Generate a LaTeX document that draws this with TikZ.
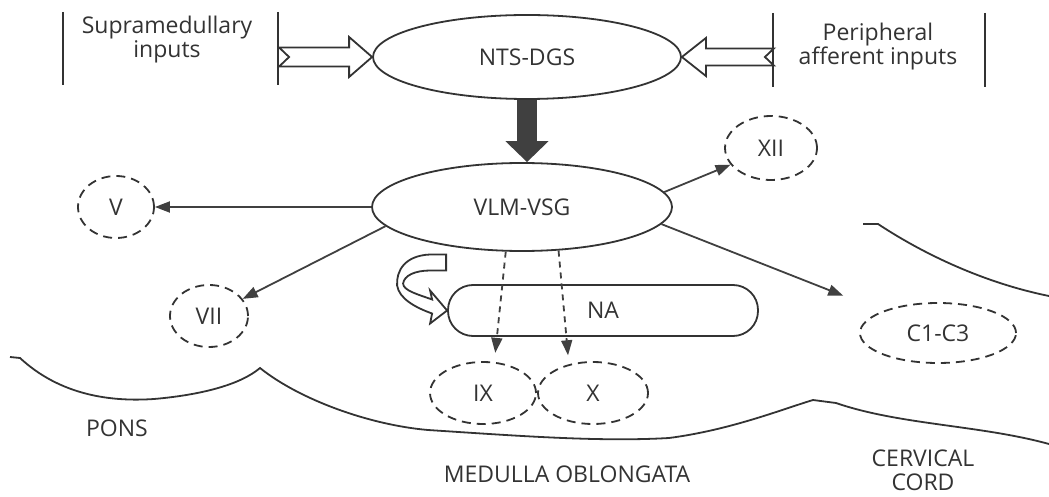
\documentclass[tikz,border=0pt]{standalone}
\usepackage{fontspec}
\setmainfont{Open Sans}
\usetikzlibrary{arrows.meta,calc,shapes.geometric}

\begin{document}
\begin{tikzpicture}[x=0.5pt,y=-0.5pt,
  every node/.style={font=\fontsize{11.5}{12}\selectfont, text=black!80},
  zone/.style={ellipse, draw=black!80, line width=0.9pt, inner sep=0pt},
  kern/.style={ellipse, draw=black!80, line width=0.9pt, dash pattern=on 4.5pt off 3pt, inner sep=0pt},
  arr/.style={draw=black!75, line width=0.9pt, -{Triangle[length=7.5pt,width=5.5pt]}},
  dots/.style={dash pattern=on 3pt off 2.5pt, shorten >=4.5pt},
  hollow/.style={draw=black!80, line width=0.9pt, fill=white, line join=miter},
  edge/.style={draw=black!80, line width=0.9pt}]
  \useasboundingbox (0,0) rectangle (1049,497);
  % 中枢核团
  \node[zone, minimum width=154pt, minimum height=42pt] (nts) at (527,57) {NTS-DGS};
  \node[zone, minimum width=150pt, minimum height=44pt] (vlm) at (522,207) {VLM-VSG};
  \node[draw=black!80, line width=0.9pt, rounded corners=12.5pt,
        minimum width=155pt, minimum height=25.5pt, inner sep=0pt] (na) at (603,310.5) {NA};
  % 运动核（虚线椭圆）
  \node[kern, minimum width=38pt, minimum height=31pt] (cnV) at (116,207) {V};
  \node[kern, minimum width=39pt, minimum height=31pt] (cnVII) at (209,316) {VII};
  \node[kern, minimum width=46pt, minimum height=32pt] (cnXII) at (771,148) {XII};
  \node[kern, minimum width=53pt, minimum height=31pt] (cnIX) at (483,393) {IX};
  \node[kern, minimum width=55pt, minimum height=31pt] (cnX) at (593,393) {X};
  \node[kern, minimum width=78pt, minimum height=30pt] (cerv) at (938,333) {C1-C3};
  % 输入标注及竖线
  \node[align=center] (supra) at (167,40) {Supramedullary\\inputs};
  \node[align=center] (peri) at (878,47) {Peripheral\\afferent inputs};
  \draw[edge] (63,12) -- (63,85);
  \draw[edge] (278,12) -- (278,85);
  \draw[edge] (773,13) -- (773,87);
  \draw[edge] (985,13) -- (985,87);
  % 空心箭头（燕尾）
  \draw[hollow] (nts.west) -- ++(-23,-20) -- ++(0,10.5) -- ++(-70,0) -- ++(10,9.5)
    -- ++(-10,9.5) -- ++(70,0) -- ++(0,10.5) -- cycle;
  \draw[hollow] (nts.east) -- ++(24,-19) -- ++(0,10.5) -- ++(68,0) -- ++(-9,8.5)
    -- ++(9,8.5) -- ++(-68,0) -- ++(0,10.5) -- cycle;
  % 粗箭头 NTS -> VLM
  \draw[draw=black!75, line width=10pt, -{Triangle[length=10.5pt,width=21pt]}]
    (nts.south) -- (nts.south |- vlm.north);
  % 投射
  \draw[arr] (vlm.west) -- (cnV);
  \draw[arr] (vlm.188) -- (cnVII);
  \draw[arr] (vlm.6) -- (cnXII);
  \draw[arr, shorten >=21pt] (vlm.-7) -- (cerv);
  \draw[arr, dots] (vlm.250) -- (cnIX.70);
  \draw[arr, dots] (vlm.310) -- (cnX.130);
  % 弯曲空心箭头指向 NA
  \draw[hollow, shift={(na.west)}] (-1,-56) -- (-17,-56) .. controls (-42,-55) and (-51,-40) .. (-50,-25)
    .. controls (-48,-12) and (-32,-3) .. (-15,3) -- (-17,13) -- (0,0) -- (-17,-20) -- (-15,-11)
    .. controls (-29,-16) and (-44,-20) .. (-44,-27) .. controls (-43,-35) and (-32,-40) .. (-17,-40)
    -- (-1,-40) -- cycle;
  % 脑干轮廓
  \draw[edge] (10,357) -- (20,358) .. controls (60,395) and (110,402) .. (154,399)
    .. controls (200,395) and (240,385) .. (260,368) .. controls (300,400) and (370,425) .. (428,430)
    .. controls (520,436) and (600,442) .. (669,438) .. controls (730,430) and (780,410) .. (813,400)
    -- (836,403) .. controls (900,425) and (980,425) .. (1049,444);
  \draw[edge] (863,224) -- (878,224) .. controls (925,255) and (985,283) .. (1049,296);
  % 区域名称
  \node (pons) at (117,428) {PONS};
  \node (medulla) at (567,474) {MEDULLA OBLONGATA};
  \node[align=center] (cord) at (923,470) {CERVICAL\\CORD};
\end{tikzpicture}
\end{document}
